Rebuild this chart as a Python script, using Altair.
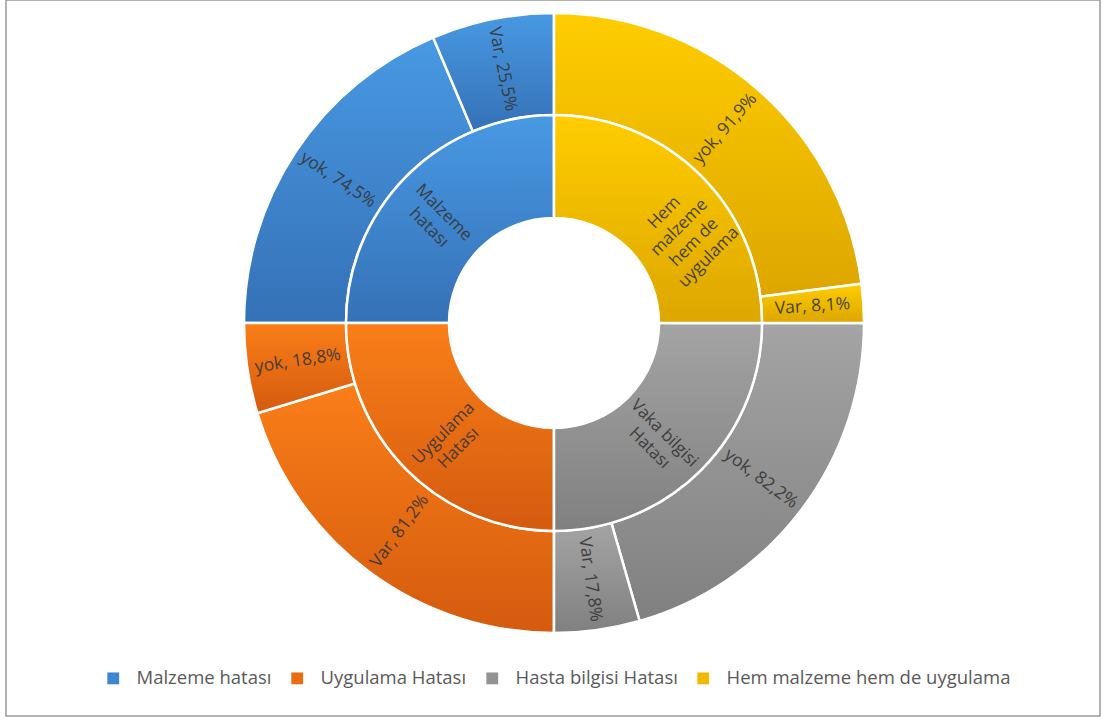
import altair as alt
import pandas as pd

# ---- data ----
legend_order = ["Malzeme hatası", "Uygulama Hatası", "Hasta bilgisi Hatası", "Hem malzeme hem de uygulama"]
legend_colors = ["#3F86D0", "#EA6C13", "#939393", "#F0BA00"]
grad_top = ["#4899E3", "#FA7E18", "#A4A4A4", "#FFCD00"]
grad_bottom = ["#3571B6", "#D45B0F", "#808080", "#DDA600"]

inner_groups = ["Hem malzeme hem de uygulama", "Hasta bilgisi Hatası", "Uygulama Hatası", "Malzeme hatası"]
inner_texts = ["Hem\nmalzeme\nhem de\nuygulama", "Vaka bilgisi\nHatası", "Uygulama\nHatası", "Malzeme\nhatası"]
inner_share = [100, 100, 100, 100]

outer_groups = ["Hem malzeme hem de uygulama", "Hem malzeme hem de uygulama",
                "Hasta bilgisi Hatası", "Hasta bilgisi Hatası",
                "Uygulama Hatası", "Uygulama Hatası",
                "Malzeme hatası", "Malzeme hatası"]
outer_names = ["yok", "Var", "yok", "Var", "Var", "yok", "yok", "Var"]
outer_pct = [91.9, 8.1, 82.2, 17.8, 81.2, 18.8, 74.5, 25.5]


def with_angles(df):
    df["end"] = df["v"].cumsum()
    df["start"] = df["end"] - df["v"]
    df["mid"] = (df["start"] + df["end"]) / 2
    total = df["v"].sum()
    mids = df["mid"] / total * 360.0
    df["rot"] = [(m - 90) % 360 if m < 180 else (m - 270) % 360 for m in mids]
    return df


inner = with_angles(pd.DataFrame({"group": inner_groups, "txt": inner_texts, "v": inner_share}))
outer = pd.DataFrame({"group": outer_groups, "name": outer_names, "v": outer_pct})
outer["txt"] = [f"{n}, {p:.1f}%".replace(".", ",") for n, p in zip(outer_names, outer_pct)]
outer = with_angles(outer)

tscale = alt.Scale(domain=[0, 400])
theta = alt.Theta("start:Q", scale=tscale)
theta2 = alt.Theta2("end:Q")

color = alt.Color("group:N",
                  scale=alt.Scale(domain=legend_order, range=legend_colors),
                  legend=alt.Legend(title=None, orient="none", direction="horizontal",
                                    legendX=98, legendY=669, symbolType="square",
                                    symbolSize=140, symbolStrokeWidth=0,
                                    labelFontSize=18.5, labelColor="#595959",
                                    labelFont="Open Sans", columnPadding=16,
                                    labelOffset=14, columns=4, labelLimit=500))

RINGS = [(outer, 310, 208), (inner, 208, 105)]

layers = []
frame = alt.Chart(alt.Data(values=[{}])).mark_rect(fill=None, stroke="#9a9a9a",
                                                   strokeWidth=1.5).encode(
    x=alt.value(0), x2=alt.value(1094), y=alt.value(0), y2=alt.value(716))
layers.append(frame)

# flat base arcs (carry the legend)
for df, r1, r2 in RINGS:
    layers.append(alt.Chart(df).mark_arc(radius=r1, radius2=r2, stroke="white",
                                         strokeWidth=2.5).encode(
        theta=theta, theta2=theta2, color=color))

# gradient overlay per category
for g, c1, c2 in zip(legend_order, grad_top, grad_bottom):
    grad = alt.LinearGradient(gradient="linear",
                              stops=[alt.GradientStop(color=c1, offset=0),
                                     alt.GradientStop(color=c2, offset=1)],
                              x1=0, x2=0, y1=0, y2=1)
    for df, r1, r2 in RINGS:
        layers.append(alt.Chart(df).transform_filter(alt.datum.group == g).mark_arc(
            radius=r1, radius2=r2, fill=grad, stroke="white", strokeWidth=2.5).encode(
            theta=theta, theta2=theta2))

outer_txt = alt.Chart(outer).mark_text(radius=259, font="Open Sans", fontSize=17.5,
                                       color="#363636", opacity=0.9).encode(
    theta=alt.Theta("mid:Q", scale=tscale), text="txt:N",
    angle=alt.Angle("rot:Q", scale=None))
inner_txt = alt.Chart(inner).mark_text(radius=156, font="Open Sans", fontSize=17,
                                       color="#363636", opacity=0.9, lineBreak="\n",
                                       lineHeight=21).encode(
    theta=alt.Theta("mid:Q", scale=tscale), text="txt:N",
    angle=alt.Angle("rot:Q", scale=None))
layers += [outer_txt, inner_txt]

chart = alt.layer(*layers).properties(
    width=1096, height=646,
    autosize=alt.AutoSizeParams(type="none"),
    padding={"left": 6, "top": 0, "right": 1, "bottom": 74},
    background="white",
).configure_view(stroke=None)

chart.save("out.html", embed_options={"renderer": "svg", "actions": False})
